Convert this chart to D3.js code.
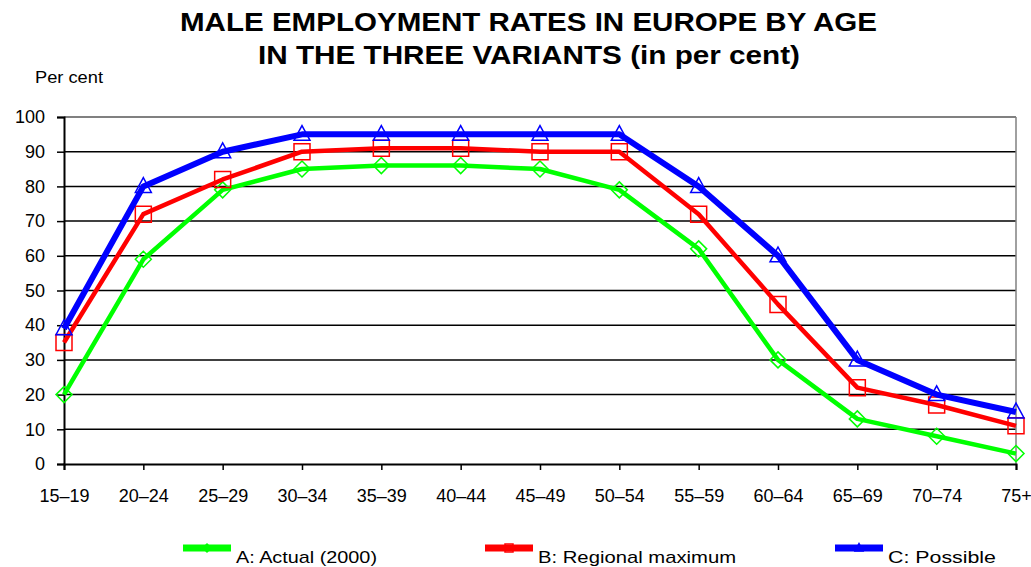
<!DOCTYPE html>
<html>
<head>
<meta charset="utf-8">
<script src="https://cdn.jsdelivr.net/npm/d3@7"></script>
<style>
  body { margin: 0; background: #fff; }
  svg { font-family: Arial, "Liberation Sans", sans-serif; }
</style>
</head>
<body>
<svg id="chart" width="1031" height="567"></svg>
<script>
// age groups on the x axis
const ageGroups = ["15\u201319", "20\u201324", "25\u201329", "30\u201334", "35\u201339", "40\u201344",
                   "45\u201349", "50\u201354", "55\u201359", "60\u201364", "65\u201369", "70\u201374", "75+"];

const actual2000 = [20, 59, 79, 85, 86, 86, 85, 79, 62, 30, 13, 8, 3];
const regionalMax = [35, 72, 82, 90, 91, 91, 90, 90, 72, 46, 22, 17, 11];
const possible = [39, 80, 90, 95, 95, 95, 95, 95, 80, 60, 30, 20, 15];

const seriesNames = ["A: Actual (2000)", "B: Regional maximum", "C: Possible"];
const yTicks = [0, 10, 20, 30, 40, 50, 60, 70, 80, 90, 100];

const series = [
    { name: seriesNames[0], values: actual2000, color: "#00ff00", width: 4.5, symbol: "diamond" },
    { name: seriesNames[1], values: regionalMax, color: "#ff0000", width: 4.5, symbol: "square" },
    { name: seriesNames[2], values: possible, color: "#0000ff", width: 6, symbol: "triangle" }
];

const svg = d3.select("#chart");
const plotLeft = 64, plotRight = 1016, plotTop = 117, plotBottom = 464;

const x = d3.scalePoint().domain(ageGroups).range([plotLeft, plotRight]);
const y = d3.scaleLinear().domain([0, 100]).range([plotBottom, plotTop]);

// title (the original is a bit stretched sideways)
svg.append("text").attr("x", 180).attr("y", 31)
    .attr("font-size", 25).attr("font-weight", "bold")
    .attr("textLength", 697).attr("lengthAdjust", "spacingAndGlyphs")
    .text("MALE EMPLOYMENT RATES IN EUROPE BY AGE");
svg.append("text").attr("x", 258).attr("y", 64)
    .attr("font-size", 25).attr("font-weight", "bold")
    .attr("textLength", 542).attr("lengthAdjust", "spacingAndGlyphs")
    .text("IN THE THREE VARIANTS (in per cent)");
svg.append("text").attr("x", 35).attr("y", 83).attr("font-size", 17)
    .attr("textLength", 68).attr("lengthAdjust", "spacingAndGlyphs").text("Per cent");

// gridlines
svg.append("g").selectAll("line").data(yTicks.filter(d => d > 0)).join("line")
    .attr("x1", plotLeft).attr("x2", plotRight)
    .attr("y1", d => y(d)).attr("y2", d => y(d))
    .attr("stroke", d => d === 100 ? "#808080" : "#000")
    .attr("stroke-width", d => d === 100 ? 2 : 1.5);
svg.append("line").attr("x1", plotRight).attr("x2", plotRight).attr("y1", plotTop).attr("y2", plotBottom)
    .attr("stroke", "#808080").attr("stroke-width", 1.5);

// axes
const yAxis = svg.append("g").attr("transform", `translate(${plotLeft},0)`)
    .call(d3.axisLeft(y).tickValues(yTicks).tickSize(7).tickPadding(12));
yAxis.select(".domain").attr("stroke", "#000").attr("stroke-width", 2);
yAxis.selectAll(".tick line").attr("stroke-width", 1.5);
yAxis.selectAll("text").attr("font-size", 18).attr("fill", "#000")
    .attr("font-family", "Arial, 'Liberation Sans', sans-serif");

const xAxis = svg.append("g").attr("transform", `translate(0,${plotBottom})`)
    .call(d3.axisBottom(x).tickSize(6).tickPadding(19));
xAxis.select(".domain").attr("stroke", "#000").attr("stroke-width", 2);
xAxis.selectAll(".tick line").attr("stroke-width", 1.5);
xAxis.selectAll("text").attr("font-size", 18).attr("fill", "#000")
    .attr("font-family", "Arial, 'Liberation Sans', sans-serif");

const line = d3.line().x((d, i) => x(ageGroups[i])).y(d => y(d));

function markerPath(symbol, s) {
    if (symbol === "diamond") return `M0,${-s}L${s},0L0,${s}L${-s},0Z`;
    if (symbol === "square") return `M${-s},${-s}H${s}V${s}H${-s}Z`;
    return `M0,${-s * 1.1}L${s},${s * 0.75}H${-s}Z`;
}

series.forEach(s => {
    const g = svg.append("g");
    g.append("path").datum(s.values).attr("d", line)
        .attr("fill", "none").attr("stroke", s.color).attr("stroke-width", s.width)
        .attr("stroke-linejoin", "round");
    g.selectAll("path.mk").data(s.values).join("path").attr("class", "mk")
        .attr("transform", (d, i) => `translate(${x(ageGroups[i])},${y(d)})`)
        .attr("d", markerPath(s.symbol, 8))
        .attr("fill", "none").attr("stroke", s.color).attr("stroke-width", 1.5);
});

// legend
const legendX = [183, 485, 835];
const legendTextLen = [141, 198, 108];
series.forEach((s, i) => {
    const g = svg.append("g").attr("transform", `translate(${legendX[i]},548)`);
    g.append("line").attr("x1", 0).attr("x2", 48).attr("stroke", s.color).attr("stroke-width", 7);
    g.append("path").attr("transform", "translate(24,0)").attr("d", markerPath(s.symbol, 4))
        .attr("fill", "none").attr("stroke", s.color).attr("stroke-width", 1.5);
    g.append("text").attr("x", 53).attr("y", 15).attr("font-size", 17)
        .attr("textLength", legendTextLen[i]).attr("lengthAdjust", "spacingAndGlyphs")
        .text(s.name);
});
</script>
</body>
</html>
